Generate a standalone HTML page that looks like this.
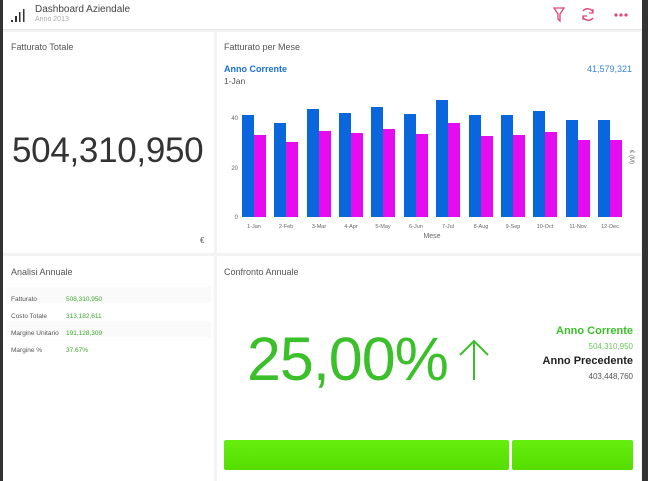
<!DOCTYPE html>
<html><head><meta charset="utf-8"><style>
*{margin:0;padding:0;box-sizing:border-box}
body{width:648px;height:481px;overflow:hidden;background:#f3f3f3;font-family:"Liberation Sans",sans-serif;position:relative}
.a{position:absolute;white-space:nowrap}
.p{position:absolute;background:#fff}
</style></head><body>
<div class="p" style="left:0;top:0;width:648px;height:30px;border-bottom:1px solid #e4e4e4"></div>
<div class="p" style="left:3px;top:32px;width:211px;height:221px"></div>
<div class="p" style="left:217px;top:32px;width:424px;height:221px"></div>
<div class="p" style="left:3px;top:256px;width:211px;height:225px"></div>
<div class="p" style="left:217px;top:256px;width:424px;height:225px"></div>
<div style="position:absolute;left:0;top:0;width:3px;height:481px;background:#333"></div>
<div style="position:absolute;left:642px;top:0;width:6px;height:481px;background:#333"></div>
<svg class="a" style="left:11px;top:9px" width="16" height="14"><rect x="0" y="11" width="2" height="2" fill="#333"/><rect x="4" y="7" width="2" height="6" fill="#333"/><rect x="8" y="3" width="1.5" height="10" fill="#333"/><rect x="12" y="0" width="1.5" height="13" fill="#333"/></svg>
<div class="a" style="left:35px;top:4px;font-size:10px;color:#444">Dashboard Aziendale</div>
<div class="a" style="left:35px;top:16px;font-size:7px;color:#aaa">Anno 2013</div>
<svg class="a" style="left:553px;top:6px" width="80" height="18"><path d="M1 2 H11 L7 8 V15 L5 13 V8 Z" fill="none" stroke="#e0457b" stroke-width="1.3"/><path d="M30 5 A6 6 0 0 1 40 6 M40 12 A6 6 0 0 1 30 11" fill="none" stroke="#e0457b" stroke-width="1.4"/><path d="M40 3 V7 H36 M30 14 V10 H34" fill="none" stroke="#e0457b" stroke-width="1.2"/><circle cx="63" cy="9" r="1.6" fill="#e0457b"/><circle cx="68" cy="9" r="1.6" fill="#e0457b"/><circle cx="73" cy="9" r="1.6" fill="#e0457b"/></svg>
<div class="a" style="left:11px;top:42px;font-size:9px;color:#555">Fatturato Totale</div>
<div class="a" style="left:12px;top:131px;font-size:35px;color:#333;letter-spacing:-0.3px">504,310,950</div>
<div class="a" style="left:200px;top:236px;font-size:8px;color:#555">€</div>
<div class="a" style="left:224px;top:42px;font-size:9px;color:#555">Fatturato per Mese</div>
<div class="a" style="left:224px;top:64px;font-size:9px;color:#1a6fd6;font-weight:bold">Anno Corrente</div>
<div class="a" style="left:224px;top:76px;font-size:8.5px;color:#555">1-Jan</div>
<div class="a" style="right:16px;top:64px;font-size:9px;color:#3a86e0">41,579,321</div>
<svg class="a" style="left:218px;top:90px" width="425" height="160" font-family="Liberation Sans" font-size="6" fill="#666">
<text x="20" y="30" text-anchor="end">40</text><text x="20" y="80" text-anchor="end">20</text><text x="20" y="129" text-anchor="end">0</text>
<rect x="24" y="25" width="12" height="102" fill="#0a66dd"/><rect x="36" y="45" width="12" height="82" fill="#e60cf0"/>
<rect x="56" y="33" width="12" height="94" fill="#0a66dd"/><rect x="68" y="52" width="12" height="75" fill="#e60cf0"/>
<rect x="89" y="19" width="12" height="108" fill="#0a66dd"/><rect x="101" y="41" width="12" height="86" fill="#e60cf0"/>
<rect x="121" y="23" width="12" height="104" fill="#0a66dd"/><rect x="133" y="43" width="12" height="84" fill="#e60cf0"/>
<rect x="153" y="17" width="12" height="110" fill="#0a66dd"/><rect x="165" y="39" width="12" height="88" fill="#e60cf0"/>
<rect x="186" y="24" width="12" height="103" fill="#0a66dd"/><rect x="198" y="44" width="12" height="83" fill="#e60cf0"/>
<rect x="218" y="10" width="12" height="117" fill="#0a66dd"/><rect x="230" y="33" width="12" height="94" fill="#e60cf0"/>
<rect x="251" y="25" width="12" height="102" fill="#0a66dd"/><rect x="263" y="46" width="12" height="81" fill="#e60cf0"/>
<rect x="283" y="25" width="12" height="102" fill="#0a66dd"/><rect x="295" y="45" width="12" height="82" fill="#e60cf0"/>
<rect x="315" y="21" width="12" height="106" fill="#0a66dd"/><rect x="327" y="42" width="12" height="85" fill="#e60cf0"/>
<rect x="348" y="30" width="12" height="97" fill="#0a66dd"/><rect x="360" y="50" width="12" height="77" fill="#e60cf0"/>
<rect x="380" y="30" width="12" height="97" fill="#0a66dd"/><rect x="392" y="50" width="12" height="77" fill="#e60cf0"/>
<g text-anchor="middle" font-size="5.5"><text x="36" y="138">1-Jan</text><text x="68" y="138">2-Feb</text><text x="101" y="138">3-Mar</text><text x="133" y="138">4-Apr</text><text x="165" y="138">5-May</text><text x="198" y="138">6-Jun</text><text x="230" y="138">7-Jul</text><text x="263" y="138">8-Aug</text><text x="295" y="138">9-Sep</text><text x="327" y="138">10-Oct</text><text x="360" y="138">11-Nov</text><text x="392" y="138">12-Dec</text></g>
<text x="214" y="148" text-anchor="middle" font-size="7">Mese</text>
<text x="0" y="0" font-size="6" transform="translate(412,60) rotate(90)">€ (M)</text>
</svg>
<div class="a" style="left:11px;top:267px;font-size:9px;color:#555">Analisi Annuale</div>
<div class="a" style="left:6px;top:287px;width:205px;height:16px;background:#fafafa"></div>
<div class="a" style="left:6px;top:321px;width:205px;height:16px;background:#fafafa"></div>
<div class="a" style="left:11px;top:291px;font-size:6.5px;color:#555;line-height:17px">Fatturato<br>Costo Totale<br>Margine Unitario<br>Margine %</div>
<div class="a" style="left:66px;top:291px;font-size:6.5px;color:#3aa82a;line-height:17px">508,310,950<br>313,182,611<br>191,128,309<br>37.67%</div>
<div class="a" style="left:224px;top:267px;font-size:9px;color:#555">Confronto Annuale</div>
<div class="a" style="left:247px;top:324px;font-size:61px;color:#3bbf2a;letter-spacing:-1px">25,00%</div>
<svg class="a" style="left:458px;top:339px" width="32" height="42"><path d="M16 2 V41 M2 16 L16 2 L30 16" fill="none" stroke="#3bbf2a" stroke-width="2"/></svg>
<div class="a" style="right:15px;top:325px;font-size:11px;color:#3bbf2a;font-weight:bold">Anno Corrente</div>
<div class="a" style="right:15px;top:342px;font-size:8px;color:#6cc85e">504,310,950</div>
<div class="a" style="right:15px;top:355px;font-size:11px;color:#222;font-weight:bold">Anno Precedente</div>
<div class="a" style="right:15px;top:372px;font-size:8px;color:#555">403,448,760</div>
<div class="a" style="left:224px;top:440px;width:285px;height:30px;background:linear-gradient(#66ee0e,#55dd00);border-radius:2px"></div>
<div class="a" style="left:512px;top:440px;width:121px;height:30px;background:linear-gradient(#66ee0e,#55dd00);border-radius:2px"></div>
</body></html>
